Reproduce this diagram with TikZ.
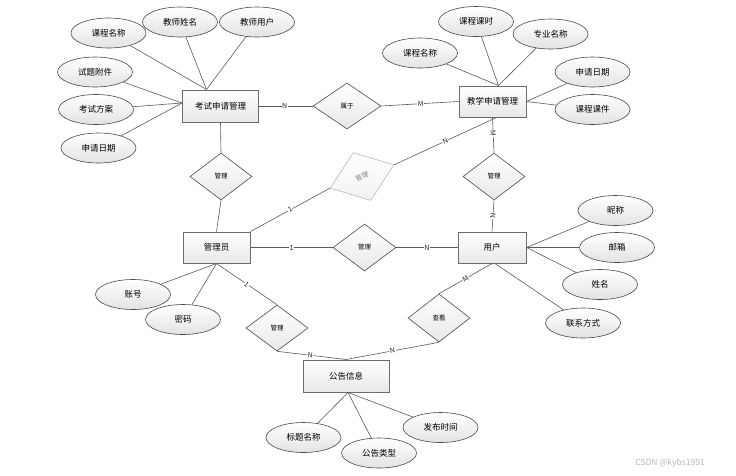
\documentclass[tikz,border=0pt]{standalone}
\usepackage{fontspec}
\setmainfont{Noto Sans CJK SC}
\usetikzlibrary{shapes.geometric,calc}
\definecolor{lnc}{HTML}{5A5A5A}
\definecolor{bdc}{HTML}{4A4A4A}
\begin{document}
\begin{tikzpicture}[x=1pt,y=-1pt,
  ent/.style={draw=gray!85!black,line width=1pt,top color=white,bottom color=gray!18,minimum width=67pt,minimum height=31pt,inner sep=0pt,font=\fontsize{8.5}{10}\selectfont},
  attr/.style={ellipse,draw=bdc,line width=0.6pt,top color=white,bottom color=gray!22,minimum width=75pt,minimum height=30pt,inner sep=0pt,font=\fontsize{8.5}{10}\selectfont},
  rel/.style={diamond,draw=bdc,line width=0.6pt,top color=white,bottom color=gray!18,minimum width=62pt,minimum height=47pt,inner sep=0pt,font=\fontsize{6.5}{7}\selectfont},
  ln/.style={draw=lnc,line width=0.6pt},
  lbl/.style={fill=white,inner sep=0.6pt,font=\fontsize{7}{7}\selectfont,text=black!85}]
\useasboundingbox (0,0) rectangle (736,475);
\fill[white] (0,0) rectangle (736,475);
% entities
\node[ent,minimum width=76pt,minimum height=32pt] (ks) at (220.5,106) {考试申请管理};
\node[ent] (jx) at (492.5,101.5) {教学申请管理};
\node[ent] (gly) at (216.5,247.5) {管理员};
\node[ent,minimum width=68pt] (yh) at (492,247.5) {用户};
\node[ent,minimum width=86pt,minimum height=32pt] (gg) at (346,376) {公告信息};
% relations
\node[rel,minimum width=68pt,minimum height=46pt] (sy) at (347,106) {属于};
\node[rel] (m1) at (221,176.5) {管理};
\node[rel,rotate=20,minimum width=68pt,minimum height=51pt,draw=gray!55,top color=white,bottom color=gray!10,text=gray] (m2) at (362,176.5) {管理};
\node[rel] (m3) at (494,176.5) {管理};
\node[rel,minimum width=63pt] (m4) at (364.5,247.5) {管理};
\node[rel,minimum height=46pt] (m5) at (277,328) {管理};
\node[rel,minimum height=48pt] (ck) at (439,318) {查看};
% attributes
\node[attr] (a1) at (108.5,33) {课程名称};
\node[attr] (a2) at (180,22) {教师姓名};
\node[attr] (a3) at (257,22) {教师用户};
\node[attr] (a4) at (95,72) {试题附件};
\node[attr] (a5) at (96,109.5) {考试方案};
\node[attr] (a6) at (98.5,148) {申请日期};
\node[attr] (b1) at (420,53) {课程名称};
\node[attr] (b2) at (476,21.5) {课程课时};
\node[attr] (b3) at (550.5,34) {专业名称};
\node[attr] (b4) at (592.5,72) {申请日期};
\node[attr] (b5) at (592.5,109.5) {课程课件};
\node[attr] (c1) at (615.5,210.5) {昵称};
\node[attr] (c2) at (617,247.5) {邮箱};
\node[attr] (c3) at (600,284.5) {姓名};
\node[attr] (c4) at (583,323) {联系方式};
\node[attr] (d1) at (133,294.5) {账号};
\node[attr] (d2) at (183,319.5) {密码};
\node[attr] (e1) at (303.5,437.5) {标题名称};
\node[attr] (e2) at (379,453) {公告类型};
\node[attr] (e3) at (440.5,427.5) {发布时间};
% anchor points
\coordinate (ksT) at ($(ks.north)+(-14,0)$);
\coordinate (ksL) at ($(ks.west)+(0,-3)$);
\coordinate (jxT) at ($(jx.north)+(6,0)$);
\coordinate (jxB) at ($(jx.south)+(4,0)$);
\coordinate (ggB) at ($(gg.south)+(2,0)$);
% attribute lines
\draw[ln] (a1) -- (ksT);
\draw[ln] (a2) -- (ksT);
\draw[ln] (a3) -- (ksT);
\draw[ln] (a4) -- (ksL);
\draw[ln] (a5) -- (ksL);
\draw[ln] (a6) -- (ksL);
\draw[ln] (b1) -- (jxT);
\draw[ln] (b2) -- (jxT);
\draw[ln] (b3) -- (jxT);
\draw[ln] (b4) -- (jx.east);
\draw[ln] (b5) -- (jx.east);
\draw[ln] (c1) -- (yh.east);
\draw[ln] (c2) -- (yh.east);
\draw[ln] (c3) -- (yh.east);
\draw[ln] (c4) -- ($(yh.south)+(3,0)$);
\draw[ln] (d1) -- (gly.south);
\draw[ln] (d2) -- (gly.south);
\draw[ln] (e1) -- (ggB);
\draw[ln] (e2) -- (ggB);
\draw[ln] (e3) -- (ggB);
% relation lines
\draw[ln] (ks.east) -- node[lbl,pos=0.48]{N} (sy.west);
\draw[ln] (sy.east) -- node[lbl,pos=0.51]{M} (jx.west);
\draw[ln] (ks.south) -- (m1.north);
\draw[ln] (m1.south) -- (gly.north);
\draw[ln] (gly.north east) -- node[lbl,sloped]{1} (m2.west);
\draw[ln] (m2.east) -- node[lbl,sloped]{N} (jxB);
\draw[ln] (jx.south) -- node[lbl,sloped,pos=0.45]{M} (m3.north);
\draw[ln] (m3.south) -- node[lbl,sloped]{N} (yh.north);
\draw[ln] (gly.east) -- node[lbl]{1} (m4.west);
\draw[ln] (m4.east) -- node[lbl]{N} (yh.west);
\draw[ln] (gly.south) -- node[lbl,sloped]{1} (m5.north);
\draw[ln] (m5.south) -- node[lbl,sloped,pos=0.48]{N} (gg.north);
\draw[ln] (ck.south) -- node[lbl,sloped]{N} (gg.north);
\draw[ln] (yh.south) -- node[lbl,sloped]{M} (ck.north);
% watermark
\node[text=gray!55,font=\fontsize{8.5}{10}\selectfont,inner sep=0pt] (wm) at (670,463) {CSDN @kybs1991};
\end{tikzpicture}
\end{document}
